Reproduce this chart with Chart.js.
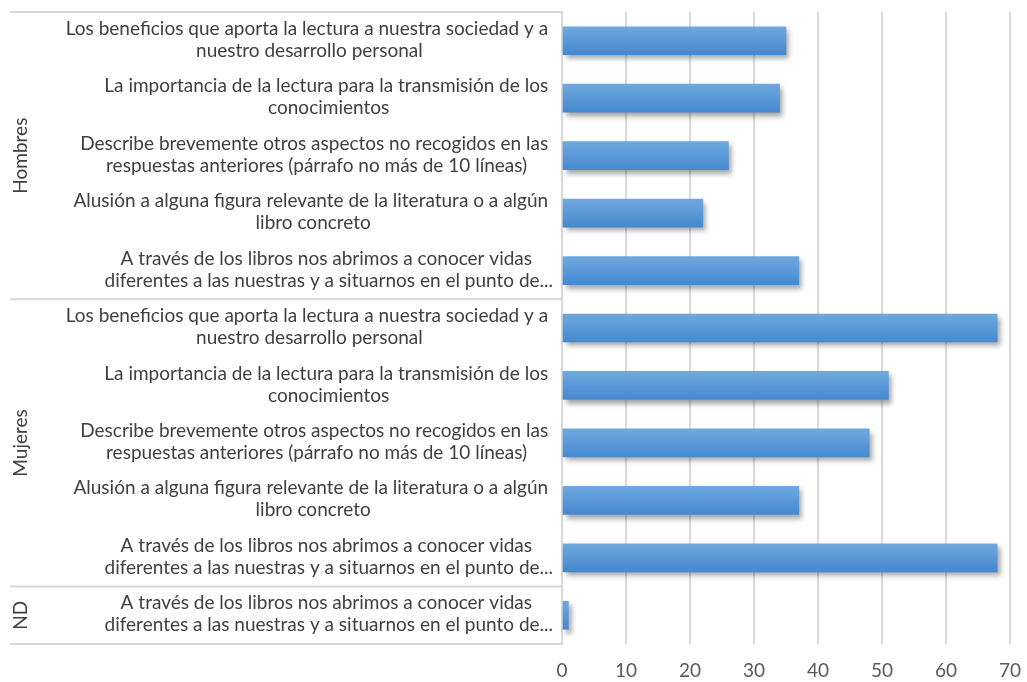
<!DOCTYPE html>
<html>
<head>
<meta charset="utf-8">
<script src="https://cdn.jsdelivr.net/npm/chart.js@4.4.1/dist/chart.umd.min.js"></script>
<style>
  html, body { margin: 0; padding: 0; background: #fff; }
  #wrap { width: 1027px; height: 682px; }
</style>
</head>
<body>
<div id="wrap"><canvas id="chart"></canvas></div>
<script>
// Answer topics, repeated inside each group
const topics = [
    ["Los beneficios que aporta la lectura a nuestra sociedad y a", "nuestro desarrollo personal"],
    ["La importancia de la lectura para la transmisión de los", "conocimientos"],
    ["Describe brevemente otros aspectos no recogidos en las", "respuestas anteriores (párrafo no más de 10 líneas)"],
    ["Alusión a alguna figura relevante de la literatura o a algún", "libro concreto"],
    ["A través de los libros nos abrimos a conocer vidas", "diferentes a las nuestras y a situarnos en el punto de..."]
];

const groupNames = ["Hombres", "Mujeres", "ND"];
const groupSizes = [5, 5, 1];

const categories = [
    topics[0], topics[1], topics[2], topics[3], topics[4],
    topics[0], topics[1], topics[2], topics[3], topics[4],
    topics[4]
];
const values = [35, 34, 26, 22, 37, 68, 51, 48, 37, 68, 1];

const xTicks = [0, 10, 20, 30, 40, 50, 60, 70];

const FONT = "Lato";
const FONT_SIZE = 19;
const TEXT = "#404040";
const LINE = "#d9d9d9";
const BAR_H = 28;

// vertical gradient per bar, placed from the category scale
function barFill(context) {
    const chart = context.chart;
    const y = chart.scales.y;
    const fallback = "#5b9bd5";
    if (!y || context.dataIndex === undefined) return fallback;
    const top = y.getPixelForValue(context.dataIndex) - BAR_H / 2;
    if (!isFinite(top)) return fallback;
    const g = chart.ctx.createLinearGradient(0, top, 0, top + BAR_H);
    g.addColorStop(0, "#6fa8de");
    g.addColorStop(1, "#4589d0");
    return g;
}

// drop shadow under the bars
const barShadow = {
    id: "barShadow",
    beforeDatasetsDraw(chart) {
        const ctx = chart.ctx;
        ctx.save();
        ctx.shadowColor = "rgba(0,0,0,0.35)";
        ctx.shadowBlur = 5;
        ctx.shadowOffsetX = 3;
        ctx.shadowOffsetY = 4;
    },
    afterDatasetsDraw(chart) {
        chart.ctx.restore();
    }
};

// Two-level category axis: topic labels, group names and separators
const groupAxis = {
    id: "groupAxis",
    afterDraw(chart) {
        const ctx = chart.ctx;
        const y = chart.scales.y;
        const area = chart.chartArea;
        const step = y.getPixelForValue(1) - y.getPixelForValue(0);

        ctx.save();
        ctx.font = FONT_SIZE + "px " + FONT;
        ctx.fillStyle = TEXT;
        ctx.textBaseline = "middle";
        ctx.textAlign = "center";
        categories.forEach((lines, i) => {
            const cy = y.getPixelForValue(i) - 1;
            // wrapped lines keep their trailing space, like a text box
            const rows = lines.map((l, j) => j < lines.length - 1 ? l + " " : l);
            const w = Math.max(...rows.map(l => ctx.measureText(l).width));
            const cx = area.left - 9 - w / 2;
            rows.forEach((l, j) => {
                ctx.fillText(l, cx, cy + (j - (rows.length - 1) / 2) * 22);
            });
        });

        ctx.strokeStyle = LINE;
        ctx.lineWidth = 2;
        let start = 0;
        const edges = [y.getPixelForValue(0) - step / 2];
        groupNames.forEach((name, g) => {
            const end = start + groupSizes[g] - 1;
            const top = y.getPixelForValue(start) - step / 2;
            const bottom = y.getPixelForValue(end) + step / 2;
            edges.push(bottom);
            ctx.save();
            ctx.translate(21, (top + bottom) / 2);
            ctx.rotate(-Math.PI / 2);
            ctx.fillText(name, 0, 0);
            ctx.restore();
            start = end + 1;
        });
        edges.forEach(e => {
            ctx.beginPath();
            ctx.moveTo(10, e);
            ctx.lineTo(area.left, e);
            ctx.stroke();
        });
        ctx.restore();
    }
};

new Chart(document.getElementById("chart"), {
    type: "bar",
    data: {
        labels: categories,
        datasets: [{
            data: values,
            backgroundColor: barFill,
            barThickness: BAR_H
        }]
    },
    options: {
        indexAxis: "y",
        responsive: true,
        maintainAspectRatio: false,
        animation: false,
        layout: { padding: { top: 12, right: 17, left: 0, bottom: 0 } },
        plugins: {
            legend: { display: false },
            tooltip: { enabled: false }
        },
        scales: {
            x: {
                min: 0,
                max: 70,
                afterBuildTicks(scale) {
                    scale.ticks = xTicks.map(v => ({ value: v }));
                },
                afterFit(scale) {
                    scale.height = 38;
                    scale.paddingLeft = 0;
                    scale.paddingRight = 0;
                },
                grid: { color: LINE, lineWidth: 2, drawTicks: false },
                border: { display: false },
                ticks: {
                    padding: 15,
                    color: "#595959",
                    font: { family: FONT, size: FONT_SIZE }
                }
            },
            y: {
                afterFit(scale) { scale.width = 562; },
                grid: { display: false },
                border: { display: true, color: LINE, width: 2 },
                ticks: { display: false }
            }
        }
    },
    plugins: [barShadow, groupAxis]
});
</script>
</body>
</html>
